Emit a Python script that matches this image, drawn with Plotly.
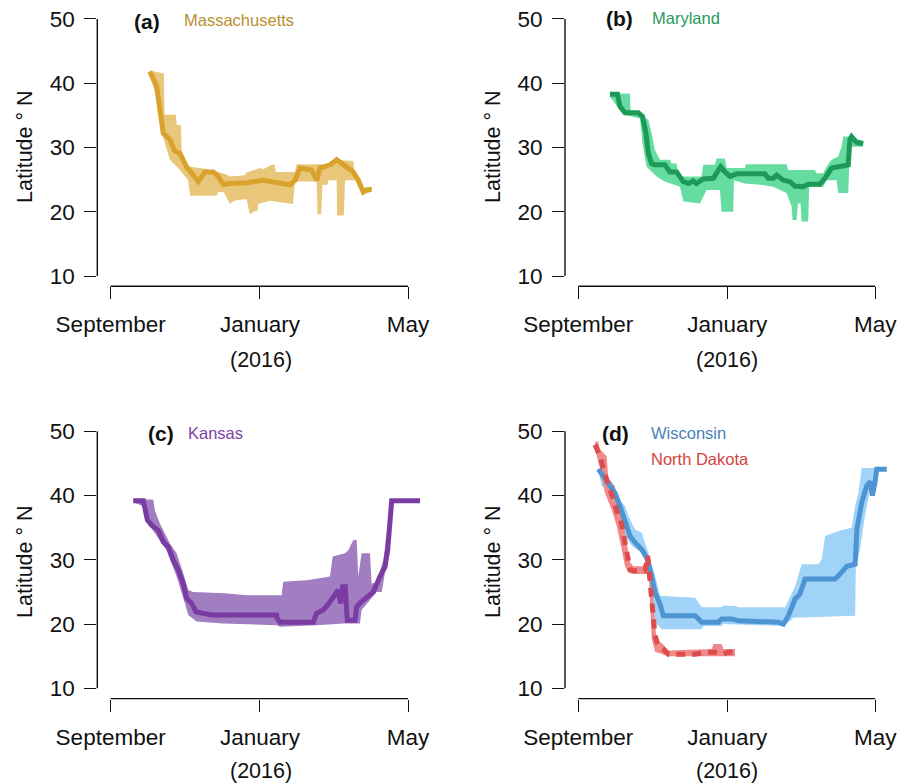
import plotly.graph_objects as go

# ---------------- data (x = days since 1 September 2015, y = latitude °N) ----------------
x_tickvals = [0, 122, 243]
x_ticktext = ["September", "January", "May"]
y_tickvals = [10, 20, 30, 40, 50]

# (a) Massachusetts
ma_line_x = [32, 37.6, 40.3, 43, 48.4, 52.5, 56.6, 62, 67.5, 71.6, 77, 83.8, 87.9, 92, 97.5, 111, 124.7, 132.8, 146.5, 150.6, 154.7, 164.2, 168.3, 171, 179.2, 184.6, 190, 198.2, 202.3, 206.4, 209.2, 213.2]
ma_line_y = [41.8, 39.5, 35.8, 32.2, 31.2, 29.4, 29.1, 27.0, 25.7, 24.7, 26.2, 26.2, 25.5, 24.2, 24.4, 24.5, 24.9, 24.7, 24.2, 24.9, 26.8, 26.5, 24.9, 26.8, 27.3, 28.1, 27.3, 26.2, 24.9, 23.1, 23.4, 23.5]
ma_hi_x = [32, 43.5, 44, 53.3, 54, 57.5, 58, 62, 65, 77.4, 87.9, 94.7, 97.5, 109.5, 111, 122, 124.7, 131.5, 134, 135, 150.6, 152, 173.7, 175, 179.5, 182, 198.2, 199.5, 206.4, 213.2]
ma_hi_y = [42.0, 41.5, 35.1, 35.1, 33.5, 33.5, 29.4, 27.3, 27.0, 26.7, 26.2, 25.8, 25.5, 25.7, 26.1, 26.8, 26.6, 27.3, 27.3, 26.2, 26.2, 27.4, 27.4, 26.8, 26.8, 28.1, 27.9, 25.9, 23.6, 23.9]
ma_lo_x = [32, 37.6, 41, 43.5, 48.4, 56.6, 63.3, 65, 86.5, 88, 92.5, 97.5, 101, 111, 113.8, 118, 120, 120.5, 130, 149, 150.6, 168.3, 169, 172, 173, 177, 178, 184.6, 185, 190.5, 191.5, 199.5, 202.3, 206.4, 209.2, 213.2]
ma_lo_y = [41.3, 37.8, 33.5, 31.2, 28.1, 26.5, 24.9, 22.5, 22.5, 23.1, 23.0, 21.2, 21.7, 22.0, 19.6, 20.1, 20.1, 21.2, 21.7, 21.2, 24.7, 24.7, 19.6, 19.6, 24.2, 24.2, 24.9, 24.9, 19.4, 19.4, 24.9, 24.9, 23.9, 22.6, 22.9, 23.1]

# (b) Maryland
md_line_x = [25.9, 32, 34.1, 38.2, 49.1, 52.6, 55.4, 57.3, 60, 62.7, 70.9, 75, 80.5, 85.9, 90, 94.1, 96.8, 102.3, 110.5, 113.2, 116.5, 120, 124.1, 129.6, 152.8, 155.5, 159.6, 162.3, 167.8, 173.2, 177.3, 184.1, 188.2, 197.8, 201.9, 207.3, 211.4, 215.5, 221, 222.3, 223.7, 227.8, 233.2]
md_line_y = [38.3, 38.3, 36.4, 35.4, 35.4, 34.8, 32.2, 29.1, 27.5, 27.3, 27.3, 26.2, 26.2, 24.7, 24.4, 24.8, 24.4, 25.1, 25.2, 26.1, 27.0, 26.2, 25.5, 25.9, 25.9, 25.2, 25.2, 25.7, 24.9, 24.7, 24.0, 23.9, 24.3, 24.3, 25.2, 26.8, 27.0, 27.1, 27.3, 31.2, 31.7, 30.8, 30.6]
md_hi_x = [25.9, 42.3, 42.8, 51.8, 53.2, 57.3, 60, 62.7, 66.8, 75, 76.4, 80.5, 81.8, 100.9, 102.3, 111.8, 113.2, 120, 121.4, 136.4, 137.2, 170.5, 171.9, 193.7, 195, 200.5, 203.2, 207.3, 212.8, 215.5, 216.9, 224, 227.8, 233.2]
md_hi_y = [38.4, 38.4, 35.3, 35.3, 34.8, 34.3, 32.2, 29.6, 28.1, 28.1, 27.5, 27.5, 25.5, 25.5, 27.3, 27.3, 28.3, 28.3, 26.8, 26.8, 27.4, 27.4, 26.5, 26.5, 26.0, 26.0, 27.0, 28.1, 28.6, 30.1, 31.7, 31.7, 31.3, 31.1]
md_lo_x = [25.9, 34.1, 39.6, 50.5, 52.6, 55.9, 64.1, 70.9, 83.2, 86, 99.6, 102.3, 105, 115.9, 117.3, 126.8, 127.4, 136.4, 148.7, 159.6, 170.5, 174.6, 175.4, 178.7, 179.8, 182, 182.8, 188.2, 189, 200.5, 203.2, 211.4, 212.8, 221, 221.8, 222.9, 225, 233.2]
md_lo_y = [37.9, 35.8, 35.0, 34.5, 30.6, 27.0, 25.5, 24.7, 23.9, 21.6, 21.3, 22.3, 23.4, 23.4, 20.0, 20.0, 24.9, 24.4, 24.2, 23.9, 22.9, 20.8, 18.7, 18.7, 21.3, 21.3, 18.5, 18.5, 23.9, 23.9, 24.9, 24.9, 22.9, 22.9, 27.0, 30.1, 30.1, 30.1]

# (c) Kansas
ks_line_x = [18.5, 26.7, 30, 33.5, 38.9, 43, 47.1, 51.2, 55.3, 59.3, 62.1, 66.2, 69.7, 75.7, 82.5, 135.6, 136, 138.3, 165.6, 168.3, 173.7, 177.8, 183.3, 186, 187.9, 189.5, 191.7, 193.3, 199.6, 201, 205, 209.1, 214.6, 220, 224.1, 226.3, 228.2, 229.6, 252.7]
ks_line_y = [39.2, 39.2, 36.2, 35.4, 34.6, 32.8, 32.0, 29.9, 28.4, 26.3, 24.0, 23.2, 21.9, 21.7, 21.4, 21.4, 20.9, 20.3, 20.3, 21.7, 22.2, 23.1, 24.8, 25.3, 23.2, 25.8, 25.8, 20.6, 20.6, 22.7, 23.5, 24.2, 25.0, 27.4, 28.9, 31.5, 35.1, 39.2, 39.2]
ks_hi_x = [18.5, 34.8, 36.1, 40.3, 48.5, 53.9, 59.3, 63.4, 67.5, 83.9, 93.4, 111.1, 139.7, 141, 160.1, 179.2, 181.4, 191.4, 194.2, 198.2, 201, 202.3, 205, 211.9, 213.2, 217.3, 222.7, 225.5, 228.2, 229.6]
ks_hi_y = [39.4, 39.4, 37.7, 35.6, 32.5, 31.0, 27.9, 25.3, 25.0, 24.9, 24.8, 24.5, 24.5, 26.6, 26.8, 27.4, 30.5, 31.0, 31.5, 33.1, 33.1, 27.4, 31.0, 31.0, 26.3, 26.5, 29.9, 34.1, 38.2, 39.4]
ks_lo_x = [18.5, 28, 30.8, 37.6, 45.7, 53.9, 60.7, 63.4, 70.2, 92, 135.6, 138.3, 168.3, 190.1, 203.7, 205, 211.9, 217.3, 221.4, 222.7, 226.8, 229.6]
ks_lo_y = [39.0, 38.2, 35.6, 33.8, 31.5, 27.4, 23.2, 21.4, 20.4, 20.1, 19.8, 19.6, 19.8, 20.1, 20.1, 22.2, 23.7, 25.0, 25.0, 26.3, 31.5, 39.0]

# (d) Wisconsin
wi_line_x = [16.4, 20.5, 24.6, 30, 34.1, 38.2, 42.3, 46.4, 51.9, 56, 59.5, 62.8, 66.9, 69.6, 95.6, 101, 114.7, 117.4, 125.6, 131, 163.8, 167.9, 172, 177.5, 181.5, 185.6, 210.2, 212.9, 217, 219.8, 226.6, 228, 232, 236.1, 238.9, 240.8, 243, 244.3, 252.5]
wi_line_y = [44.1, 43.0, 41.7, 40.4, 38.4, 35.8, 33.7, 32.7, 31.6, 30.3, 28.0, 24.9, 23.1, 21.3, 21.3, 20.3, 20.3, 20.8, 20.8, 20.5, 20.3, 20.0, 21.3, 23.9, 24.7, 27.0, 27.0, 27.5, 28.5, 29.0, 29.3, 34.7, 38.9, 41.5, 42.2, 40.0, 42.2, 44.1, 44.1]
wi_hi_x = [16.4, 21.8, 27.3, 32.8, 35.5, 38.2, 41, 46.4, 51.9, 57.3, 61.4, 64.2, 66.9, 95.6, 98.3, 101, 117.4, 118.7, 128.3, 131, 169.3, 177.5, 182.9, 196.6, 199.3, 202, 212.9, 223.8, 226.6, 229.3, 232, 244.3]
wi_hi_y = [44.3, 43.0, 42.2, 39.9, 38.9, 38.4, 36.8, 34.7, 34.2, 31.1, 28.5, 26.5, 24.4, 24.1, 23.4, 22.6, 22.6, 22.9, 22.8, 22.6, 22.6, 25.9, 29.3, 29.3, 30.1, 33.7, 34.5, 35.0, 38.4, 40.4, 44.3, 44.3]
wi_lo_x = [16.4, 19.1, 23.2, 27.3, 32.8, 38.2, 43.7, 51.9, 57.3, 60.1, 62.8, 68.3, 101, 102.4, 117.4, 118.7, 166.5, 172, 176.1, 226.6, 227.2, 230.6, 234.6, 238.9, 240.8, 243, 244.3]
wi_lo_y = [43.8, 41.5, 40.9, 39.1, 36.3, 33.7, 32.2, 31.1, 29.6, 25.4, 20.3, 19.2, 19.2, 19.7, 19.7, 20.0, 19.7, 20.3, 21.0, 21.3, 29.0, 31.6, 36.8, 40.9, 39.7, 41.5, 43.8]

# (d) North Dakota
nd_line_x = [13.7, 17.7, 20.5, 24.6, 28.7, 32.8, 35.5, 38.2, 41, 42.3, 45, 54.6, 56.8, 57.9, 59, 60.6, 62.8, 65.5, 69.6, 73.7, 95.6, 103.7, 111.9, 117.4, 122.9, 128.3]
nd_line_y = [47.9, 46.1, 44.1, 42.0, 39.4, 36.8, 35.5, 32.7, 29.6, 28.5, 28.3, 28.3, 30.6, 28.5, 25.4, 22.3, 18.2, 16.6, 16.1, 15.3, 15.3, 15.6, 15.6, 15.3, 15.6, 15.6]
nd_hi_x = [13.7, 16.4, 17.7, 23.2, 24.6, 30, 31.4, 35.5, 38.2, 42.3, 45, 56, 56.8, 59, 61.5, 64.2, 68.3, 73.7, 109.2, 110.6, 117.4, 118.7, 128.3]
nd_hi_y = [48.4, 48.4, 47.2, 46.1, 42.5, 41.5, 38.9, 37.8, 34.2, 29.6, 29.0, 29.0, 30.9, 30.1, 23.5, 17.1, 17.1, 15.9, 16.1, 16.9, 16.9, 16.1, 16.1]
nd_lo_x = [13.7, 17.7, 21.8, 27.3, 31.4, 35.5, 38.2, 41, 45, 56, 57.9, 59, 60.1, 62.8, 73.7, 128.3]
nd_lo_y = [47.2, 44.3, 40.4, 37.8, 35.3, 31.6, 29.0, 28.0, 27.8, 27.8, 26.5, 22.3, 17.7, 15.7, 15.0, 15.0]

# ---------------- figure ----------------
W, H = 912, 784
FONT = "Liberation Sans, Arial, sans-serif"

fig = go.Figure()


def band(xa, hx, hy, lx, ly, color):
    fig.add_trace(go.Scatter(
        x=list(hx) + list(lx)[::-1], y=list(hy) + list(ly)[::-1],
        fill="toself", fillcolor=color, mode="lines", line=dict(width=0, color=color),
        xaxis="x" + xa, yaxis="y" + xa, hoverinfo="skip", showlegend=False))


def line(xa, x, y, color, dash="solid"):
    fig.add_trace(go.Scatter(
        x=x, y=y, mode="lines", line=dict(color=color, width=5, dash=dash),
        xaxis="x" + xa, yaxis="y" + xa, hoverinfo="skip", showlegend=False))


band("", ma_hi_x, ma_hi_y, ma_lo_x, ma_lo_y, "#E9C77A")
line("", ma_line_x, ma_line_y, "#D8A22C")
band("2", md_hi_x, md_hi_y, md_lo_x, md_lo_y, "#66DCA0")
line("2", md_line_x, md_line_y, "#1E9A58")
band("3", ks_hi_x, ks_hi_y, ks_lo_x, ks_lo_y, "#A17DC2")
line("3", ks_line_x, ks_line_y, "#7A3CA2")
band("4", wi_hi_x, wi_hi_y, wi_lo_x, wi_lo_y, "#A0D3F8")
band("4", nd_hi_x, nd_hi_y, nd_lo_x, nd_lo_y, "#F08A8A")
line("4", wi_line_x, wi_line_y, "#4E94D2")
line("4", nd_line_x, nd_line_y, "#DC4C4C", dash="9px,7px")

# panel geometry (paper fractions)
XR = [-10.9, 265.8]
YR = [8.4, 51.6]
xdom_l = [97.3 / W, 436 / W]
xdom_r = [565 / W, 903 / W]
ydom_t = [1 - 286.3 / H, 1 - 8.7 / H]
ydom_b = [1 - 698.6 / H, 1 - 421.0 / H]

panels = {"": (xdom_l, ydom_t), "2": (xdom_r, ydom_t), "3": (xdom_l, ydom_b), "4": (xdom_r, ydom_b)}
tickfont = dict(family=FONT, size=22.5, color="#111")
layout_axes = {}
shapes = []
for k, (xd, yd) in panels.items():
    layout_axes["xaxis" + k] = dict(
        domain=xd, range=XR, anchor="y" + k, tickvals=x_tickvals, ticktext=x_ticktext,
        ticks="outside", ticklen=12, tickwidth=1.4, tickcolor="#111", showline=False,
        showgrid=False, zeroline=False, tickfont=tickfont, fixedrange=True,
        automargin=False, ticklabelstandoff=6)
    layout_axes["yaxis" + k] = dict(
        domain=yd, range=YR, anchor="x" + k, tickvals=y_tickvals,
        ticks="outside", ticklen=12, tickwidth=1.4, tickcolor="#111", showline=False,
        showgrid=False, zeroline=False, tickfont=tickfont, fixedrange=True,
        automargin=False, ticklabelstandoff=5)
    shapes.append(dict(type="line", xref="x" + k, yref="y" + k + " domain",
                       x0=x_tickvals[0], x1=x_tickvals[-1], y0=0, y1=0,
                       line=dict(color="#111", width=1.4)))
    shapes.append(dict(type="line", xref="x" + k + " domain", yref="y" + k,
                       x0=0, x1=0, y0=y_tickvals[0], y1=y_tickvals[-1],
                       line=dict(color="#111", width=1.4)))


def ann(text, px, py, size, color="#111", bold=False, xanchor="center", angle=0):
    return dict(text=("<b>%s</b>" % text) if bold else text, x=px / W, y=1 - py / H,
                xref="paper", yref="paper", showarrow=False, xanchor=xanchor, yanchor="middle",
                textangle=angle, font=dict(family=FONT, size=size, color=color))


annotations = [
    ann("Latitude ° N", 25, 147, 21.5, angle=-90),
    ann("Latitude ° N", 493, 147, 21.5, angle=-90),
    ann("Latitude ° N", 25, 562, 21.5, angle=-90),
    ann("Latitude ° N", 493, 562, 21.5, angle=-90),
    ann("(2016)", 261, 360, 21.5),
    ann("(2016)", 727, 360, 21.5),
    ann("(2016)", 261, 771, 21.5),
    ann("(2016)", 727, 771, 21.5),
    ann("(a)", 147, 21, 21, bold=True),
    ann("Massachusetts", 182, 20, 16.5, color="#B8902E", xanchor="left"),
    ann("(b)", 619, 18, 21, bold=True),
    ann("Maryland", 650, 18, 16.5, color="#2A9A5C", xanchor="left"),
    ann("(c)", 161, 433, 21, bold=True),
    ann("Kansas", 186, 433, 16.5, color="#7E3FA6", xanchor="left"),
    ann("(d)", 615, 433, 21, bold=True),
    ann("Wisconsin", 649, 433, 16.5, color="#4A82B8", xanchor="left"),
    ann("North Dakota", 649, 459, 16.5, color="#D2443F", xanchor="left"),
]

fig.update_layout(
    width=W, height=H, autosize=False, margin=dict(l=0, r=0, t=0, b=0),
    paper_bgcolor="white", plot_bgcolor="white", showlegend=False,
    shapes=shapes, annotations=annotations, **layout_axes)

fig.write_html("out.html", include_plotlyjs=True, config={"displayModeBar": False},
               post_script="document.body.style.margin='0';document.body.style.overflow='hidden';")
